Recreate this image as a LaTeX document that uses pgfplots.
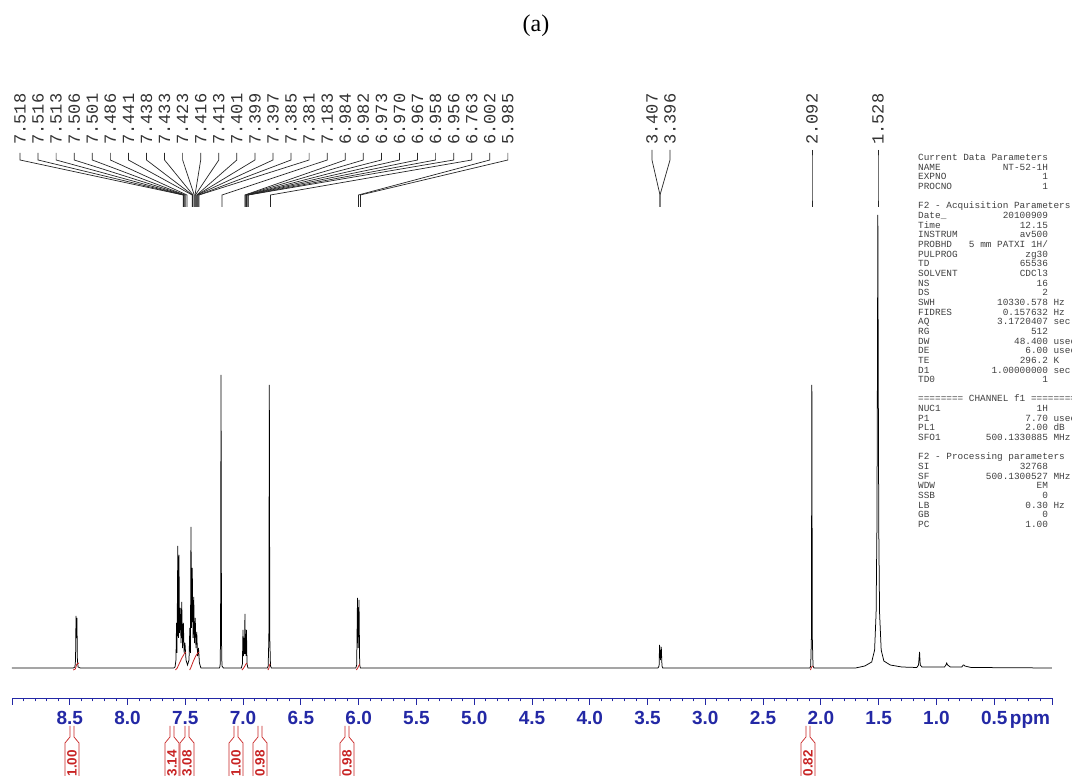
\documentclass[border=0pt]{standalone}
\usepackage{fontspec}
\usepackage{pgfplots}
\pgfplotsset{compat=1.18}
\setmainfont{Liberation Serif}
\newfontfamily\axfont{Liberation Sans}
\newfontfamily\monofont{Liberation Mono}
\definecolor{axblue}{RGB}{35,40,165}
\definecolor{intred}{RGB}{200,35,35}
\newcommand\pr[3]{\hbox to 129.75pt{#1\hfill#2}\if\relax\detokenize{#3}\relax\else\ #3\fi}
\begin{document}
\begin{tikzpicture}[x=1pt,y=1pt]
\clip (0,0) rectangle (1072,776);
\fill[white] (0,0) rectangle (1072,776);
\node[font=\fontsize{24}{24}\selectfont] at (536,750) {(a)};
\begin{axis}[
  at={(12pt,78pt)}, anchor=south west,
  scale only axis, width=1040pt, height=638pt,
  xmin=0, xmax=9, ymin=-30, ymax=608,
  x dir=reverse,
  axis x line=bottom, axis y line=none,
  axis line style={draw=axblue, line width=0.8pt, -},
  x axis line style={-},
  xtick={0,0.5,1,1.5,2,2.5,3,3.5,4,4.5,5,5.5,6,6.5,7,7.5,8,8.5,9},
  xticklabels={,0.5,1.0,1.5,2.0,2.5,3.0,3.5,4.0,4.5,5.0,5.5,6.0,6.5,7.0,7.5,8.0,8.5,},
  minor x tick num=4,
  tick align=outside,
  major tick length=7pt, minor tick length=3.5pt,
  tick style={draw=axblue, line width=0.8pt},
  xticklabel style={font=\axfont\bfseries\fontsize{19}{19}\selectfont, text=axblue, text height=14pt, text depth=0pt, inner sep=2pt, yshift=-3pt},
  extra x ticks={0.19}, extra x tick labels={ppm},
  extra x tick style={tick style={draw=none}},
  clip=false,
]
% spectrum
\addplot[black, line width=0.75pt] coordinates {
 (9.00,0) (8.47,0) (8.455,1) (8.450,8) (8.446,52) (8.442,30) (8.438,50) (8.434,8) (8.428,1) (8.41,0)
 (7.60,0) (7.589,1) (7.581,8) (7.576,45) (7.572,15) (7.565,122) (7.560,30) (7.555,113) (7.550,35)
 (7.544,60) (7.537,25) (7.531,66) (7.524,20) (7.517,45) (7.510,15) (7.503,25) (7.494,8) (7.481,3)
 (7.468,8) (7.461,40) (7.456,15) (7.451,141) (7.446,40) (7.440,100) (7.433,30) (7.427,71) (7.421,25)
 (7.414,50) (7.408,20) (7.401,36) (7.394,12) (7.386,20) (7.378,5) (7.365,0)
 (7.205,0) (7.199,2) (7.195,30) (7.191,293) (7.187,30) (7.183,2) (7.17,0)
 (7.015,0) (7.006,4) (7.001,38) (6.996,12) (6.992,30) (6.988,14) (6.984,54) (6.980,14) (6.977,34)
 (6.974,12) (6.971,38) (6.966,4) (6.958,0)
 (6.79,0) (6.783,2) (6.777,30) (6.773,283) (6.769,30) (6.763,2) (6.755,0)
 (6.025,0) (6.017,3) (6.010,70) (6.004,20) (5.997,68) (5.991,3) (5.985,0)
 (3.41,0) (3.400,2) (3.396,23) (3.388,8) (3.381,21) (3.375,2) (3.368,0)
 (2.095,0) (2.088,2) (2.082,30) (2.078,283) (2.074,30) (2.068,2) (2.060,0)
 (1.70,0) (1.62,2) (1.56,6) (1.535,18) (1.522,55) (1.515,140) (1.511,280) (1.507,453) (1.503,280)
 (1.499,140) (1.492,55) (1.478,18) (1.455,7) (1.40,3) (1.30,1)
 (1.17,0.5) (1.155,3) (1.146,16) (1.140,3) (1.125,1)
 (0.93,1) (0.918,3) (0.911,5) (0.903,3) (0.88,1)
 (0.78,1) (0.768,3) (0.762,3) (0.755,2) (0.70,0.5) (0.00,0)
};
% integral curves
\addplot[intred, line width=0.8pt] coordinates {(8.47,-2) (8.452,-1) (8.444,2) (8.438,4) (8.42,5)};
\addplot[intred, line width=0.8pt] coordinates {(7.585,-2) (7.570,0) (7.550,5) (7.530,10) (7.510,14) (7.495,16)};
\addplot[intred, line width=0.8pt] coordinates {(7.462,-2) (7.450,1) (7.430,7) (7.410,12) (7.392,15) (7.380,16)};
\addplot[intred, line width=0.8pt] coordinates {(7.010,-2) (6.995,0) (6.985,2) (6.975,4) (6.965,5)};
\addplot[intred, line width=0.8pt] coordinates {(6.785,-2) (6.776,0) (6.772,3) (6.765,4)};
\addplot[intred, line width=0.8pt] coordinates {(6.020,-2) (6.008,0) (6.000,2) (5.990,4)};
\addplot[intred, line width=0.8pt] coordinates {(2.090,-2) (2.080,1) (2.072,2)};
\end{axis}
% peak labels
\foreach \v [count=\i from 0] in {7.518,7.516,7.513,7.506,7.501,7.486,7.441,7.438,7.433,7.423,7.416,7.413,7.401,7.399,7.397,7.385,7.381,7.183,6.984,6.982,6.973,6.970,6.967,6.958,6.956,6.763,6.002,5.985}{
  \pgfmathsetmacro\xl{20+18.07*\i}
  \pgfmathsetmacro\xp{1052-115.556*\v}
  \draw[black!85, line width=0.7pt] (\xl,623) -- (\xl,616) -- (\xp,581) -- (\xp,569);
  \node[rotate=90, anchor=west, inner sep=0pt, text=black!80, font=\monofont\fontsize{17}{17}\selectfont] at (\xl,631) {\v};
}
\foreach \xl/\xp/\v in {652/660/3.407, 670/660/3.396, 812/812/2.092, 878/878/1.528}{
  \draw[black!85, line width=0.7pt] (\xl,626) -- (\xl,616) -- (\xp,581) -- (\xp,569);
  \node[rotate=90, anchor=west, inner sep=0pt, text=black!80, font=\monofont\fontsize{17}{17}\selectfont] at (\xl,631) {\v};
}
% integral values
\foreach \x/\v in {72/1.00, 172/3.14, 187/3.08, 236/1.00, 260/0.98, 347/0.98, 808/0.82}{
  \draw[intred, line width=0.7pt] (\x-2,50) -- (\x-2,39) -- (\x-7,33) -- (\x-7,-20);
  \draw[intred, line width=0.7pt] (\x+2,50) -- (\x+2,39) -- (\x+7,33) -- (\x+7,-20);
  \node[rotate=90, anchor=east, inner sep=0pt, text=intred, font=\axfont\bfseries\fontsize{13.5}{13.5}\selectfont] at (\x,26) {\v};
}
% acquisition parameters
\node[anchor=north west, inner sep=0pt, align=left, text=black!75,
      font=\monofont\fontsize{9.4}{9.66}\selectfont] at (918,622) {%
Current Data Parameters\\
\pr{NAME}{NT-52-1H}{}\\
\pr{EXPNO}{1}{}\\
\pr{PROCNO}{1}{}\\[9.66pt]
F2 - Acquisition Parameters\\
\pr{Date\_}{20100909}{}\\
\pr{Time}{12.15}{}\\
\pr{INSTRUM}{av500}{}\\
\pr{PROBHD}{5 mm PATXI 1H/}{}\\
\pr{PULPROG}{zg30}{}\\
\pr{TD}{65536}{}\\
\pr{SOLVENT}{CDCl3}{}\\
\pr{NS}{16}{}\\
\pr{DS}{2}{}\\
\pr{SWH}{10330.578}{Hz}\\
\pr{FIDRES}{0.157632}{Hz}\\
\pr{AQ}{3.1720407}{sec}\\
\pr{RG}{512}{}\\
\pr{DW}{48.400}{usec}\\
\pr{DE}{6.00}{usec}\\
\pr{TE}{296.2}{K}\\
\pr{D1}{1.00000000}{sec}\\
\pr{TD0}{1}{}\\[9.66pt]
======== CHANNEL f1 ========\\
\pr{NUC1}{1H}{}\\
\pr{P1}{7.70}{usec}\\
\pr{PL1}{2.00}{dB}\\
\pr{SFO1}{500.1330885}{MHz}\\[9.66pt]
F2 - Processing parameters\\
\pr{SI}{32768}{}\\
\pr{SF}{500.1300527}{MHz}\\
\pr{WDW}{EM}{}\\
\pr{SSB}{0}{}\\
\pr{LB}{0.30}{Hz}\\
\pr{GB}{0}{}\\
\pr{PC}{1.00}{}};
\end{tikzpicture}
\end{document}
